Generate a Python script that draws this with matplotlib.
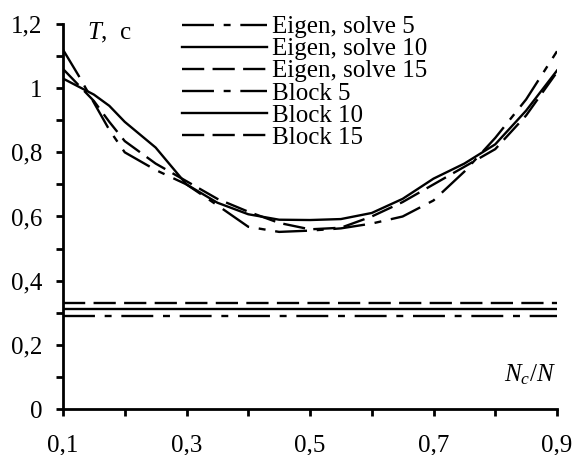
import matplotlib
matplotlib.use("Agg")
import matplotlib.pyplot as plt
from matplotlib.ticker import MultipleLocator, FixedLocator

plt.rcParams['font.family'] = ['Liberation Serif', 'DejaVu Serif']
plt.rcParams['mathtext.fontset'] = 'custom'
plt.rcParams['mathtext.rm'] = 'Liberation Serif'
plt.rcParams['mathtext.it'] = 'Liberation Serif:italic'
plt.rcParams['lines.scale_dashes'] = False

# ---- data ----
x_ratio = [0.1, 0.125, 0.15, 0.175, 0.2, 0.25, 0.3, 0.35, 0.4, 0.45, 0.5,
           0.55, 0.6, 0.65, 0.7, 0.75, 0.8, 0.85, 0.9]
eigen_5 = [1.12, 1.04, 0.955, 0.87, 0.80, 0.745, 0.70, 0.635, 0.568, 0.552, 0.556,
           0.563, 0.578, 0.600, 0.650, 0.740, 0.845, 0.965, 1.115]
eigen_10 = [1.03, 1.005, 0.98, 0.945, 0.895, 0.815, 0.70, 0.643, 0.607, 0.590, 0.589,
            0.592, 0.611, 0.655, 0.718, 0.765, 0.825, 0.93, 1.055]
eigen_15 = [1.06, 1.01, 0.96, 0.895, 0.835, 0.765, 0.71, 0.655, 0.615, 0.580, 0.560,
            0.565, 0.600, 0.645, 0.700, 0.755, 0.810, 0.915, 1.05]
block_x = [0.1, 0.9]
block_5 = [0.289, 0.289]
block_10 = [0.311, 0.311]
block_15 = [0.330, 0.330]

labels = ['Eigen, solve 5', 'Eigen, solve 10', 'Eigen, solve 15',
          'Block 5', 'Block 10', 'Block 15']
y_ticks = [0, 0.2, 0.4, 0.6, 0.8, 1.0, 1.2]
y_tick_labels = ['0', '0,2', '0,4', '0,6', '0,8', '1', '1,2']
x_ticks = [0.1, 0.3, 0.5, 0.7, 0.9]
x_tick_labels = ['0,1', '0,3', '0,5', '0,7', '0,9']

# ---- styles ----
dashdot = (0, (23, 7, 5, 7))
dashed = (0, (16, 6))
lw = 1.7
fs = 18

fig = plt.figure(figsize=(5.74, 4.55), dpi=100)
ax = fig.add_axes([63/574, 1 - 409/455, (557 - 63)/574, (409 - 24)/455])

ax.plot(x_ratio, eigen_5, color='black', lw=lw, linestyle=dashdot, label=labels[0])
ax.plot(x_ratio, eigen_10, color='black', lw=lw, linestyle='-', label=labels[1])
ax.plot(x_ratio, eigen_15, color='black', lw=lw, linestyle=dashed, label=labels[2])
ax.plot(block_x, block_5, color='black', lw=lw, linestyle=dashdot, label=labels[3])
ax.plot(block_x, block_10, color='black', lw=lw, linestyle='-', label=labels[4])
ax.plot(block_x, block_15, color='black', lw=lw, linestyle=dashed, label=labels[5])

ax.set_xlim(0.1, 0.9)
ax.set_ylim(0, 1.2)
for s in ['top', 'right']:
    ax.spines[s].set_visible(False)
for s in ['left', 'bottom']:
    ax.spines[s].set_linewidth(2.0)

ax.yaxis.set_major_locator(FixedLocator(y_ticks))
ax.set_yticklabels(y_tick_labels)
ax.yaxis.set_minor_locator(MultipleLocator(0.1))
ax.xaxis.set_major_locator(FixedLocator(x_ticks))
ax.set_xticklabels(x_tick_labels)
ax.xaxis.set_minor_locator(FixedLocator([0.2, 0.4, 0.6, 0.8]))

ax.tick_params(axis='y', which='both', direction='out', length=5, width=2,
               labelsize=fs, pad=10)
ax.tick_params(axis='x', which='both', direction='out', length=5, width=2,
               labelsize=fs, pad=13)

ax.text(87/574, 1 - 33/455, r'$T$,  c', transform=fig.transFigure,
        fontsize=fs, ha='left', va='center')
ax.text(556/574, 1 - 375/455, r'$N_{c}/N$', transform=fig.transFigure,
        fontsize=fs, ha='right', va='center')

leg = ax.legend(loc='upper left', bbox_to_anchor=(182/574, 1 - 16/455),
                bbox_transform=fig.transFigure, frameon=False, fontsize=fs,
                handlelength=85/25, handletextpad=0.2, labelspacing=-0.02,
                borderpad=0, borderaxespad=0)

fig.savefig('out.png', dpi=100)
